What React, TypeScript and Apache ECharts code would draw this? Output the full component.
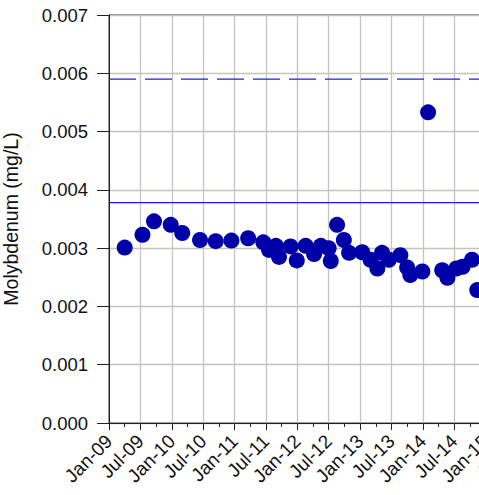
import React, { useEffect, useRef } from "react";
import * as echarts from "echarts";

const sampleDates: string[] = [
  "2009-04-01", "2009-07-13", "2009-09-19", "2009-12-25", "2010-03-01",
  "2010-06-13", "2010-09-13", "2010-12-13", "2011-03-19", "2011-06-16",
  "2011-07-19", "2011-08-28", "2011-09-16", "2011-11-22", "2011-12-28",
  "2012-02-19", "2012-04-07", "2012-05-16", "2012-07-01", "2012-07-13",
  "2012-08-19", "2012-09-28", "2012-10-28", "2013-01-13", "2013-03-01",
  "2013-04-10", "2013-05-07", "2013-06-16", "2013-08-22", "2013-10-01",
  "2013-10-19", "2013-12-28", "2014-02-01", "2014-04-22", "2014-05-22",
  "2014-07-13", "2014-08-19", "2014-10-13", "2014-11-13",
];

const molybdenum: number[] = [
  0.00301, 0.00323, 0.00346, 0.0034, 0.00326,
  0.00314, 0.00312, 0.00313, 0.00317, 0.0031,
  0.00297, 0.00304, 0.00285, 0.00303, 0.00279,
  0.00304, 0.0029, 0.00304, 0.003, 0.00278,
  0.0034, 0.00314, 0.00292, 0.00293, 0.0028,
  0.00265, 0.00292, 0.0028, 0.00288, 0.00267,
  0.00254, 0.0026, 0.00533, 0.00262, 0.00249,
  0.00265, 0.00268, 0.0028, 0.00228,
];

const solidGuideline = 0.00378;
const dashedGuideline = 0.0059;

const startYear = 2009;
const xTickLabels: string[] = [
  "Jan-09", "Jul-09", "Jan-10", "Jul-10", "Jan-11", "Jul-11", "Jan-12",
  "Jul-12", "Jan-13", "Jul-13", "Jan-14", "Jul-14", "Jan-15", "Jul-15",
];
const yTickLabels: string[] = [
  "0.000", "0.001", "0.002", "0.003", "0.004", "0.005", "0.006", "0.007",
];

function monthIndex(d: string): number {
  const [y, m, day] = d.split("-").map(Number);
  return (y - startYear) * 12 + (m - 1) + (day - 1) / 30;
}

const X_MIN = 0;
const X_MAX = 78;

export default function App() {
  const ref = useRef<HTMLDivElement>(null);
  useEffect(() => {
    if (!ref.current) return;
    const chart = echarts.init(ref.current, null, { renderer: "svg" });
    const font = "'Liberation Sans', Arial, Helvetica, sans-serif";
    const data = sampleDates.map((d, i) => [monthIndex(d), molybdenum[i]]);
    chart.setOption({
      animation: false,
      backgroundColor: "#ffffff",
      grid: {
        left: 109,
        top: 15,
        bottom: 72,
        right: 43,
        containLabel: false,
        outerBoundsMode: "none",
        show: true,
        borderColor: "#222222",
        borderWidth: 1,
        backgroundColor: "transparent",
      },
      xAxis: {
        type: "value",
        min: X_MIN,
        max: X_MAX,
        interval: 6,
        axisLine: { show: true, lineStyle: { color: "#222222", width: 1 } },
        axisTick: { show: true, length: 7, lineStyle: { color: "#222222" } },
        minorTick: { show: true, splitNumber: 2, length: 4, lineStyle: { color: "#222222" } },
        splitLine: { show: true, lineStyle: { color: "#c4c4bc", width: 1.3 } },
        axisLabel: {
          rotate: 45,
          margin: 15,
          fontSize: 19,
          color: "#111111",
          fontFamily: font,
          formatter: (v: number) => xTickLabels[Math.round(v / 6)] ?? "",
        },
      },
      yAxis: {
        type: "value",
        min: 0,
        max: 0.007,
        interval: 0.001,
        name: "Molybdenum (mg/L)",
        nameLocation: "middle",
        nameGap: 88,
        nameTextStyle: { fontSize: 19.5, color: "#111111", fontFamily: font },
        axisLine: { show: true, lineStyle: { color: "#222222", width: 1 } },
        axisTick: { show: true, length: 12, lineStyle: { color: "#222222" } },
        splitLine: { show: true, lineStyle: { color: "#c4c4bc", width: 1.3 } },
        axisLabel: {
          margin: 21,
          fontSize: 18.5,
          color: "#111111",
          fontFamily: font,
          formatter: (v: number) => yTickLabels[Math.round(v * 1000)] ?? "",
        },
      },
      series: [
        {
          type: "line",
          data: [[X_MIN, solidGuideline], [X_MAX, solidGuideline]],
          symbol: "none",
          silent: true,
          lineStyle: { color: "#1a1aff", width: 1.2, type: "solid" },
          z: 1,
        },
        {
          type: "line",
          data: [[X_MIN, dashedGuideline], [X_MAX, dashedGuideline]],
          symbol: "none",
          silent: true,
          lineStyle: { color: "#1a1aff", width: 1.2, type: [27, 9] },
          z: 1,
        },
        {
          type: "scatter",
          data,
          symbol: "circle",
          symbolSize: 16,
          itemStyle: { color: "#0000a8", opacity: 1 },
          z: 3,
        },
      ],
    });
    return () => chart.dispose();
  }, []);
  return (
    <div style={{ position: "absolute", left: 0, top: 0, width: 479, height: 495, overflow: "hidden" }}>
      <div ref={ref} style={{ width: 560, height: 495 }} />
    </div>
  );
}
